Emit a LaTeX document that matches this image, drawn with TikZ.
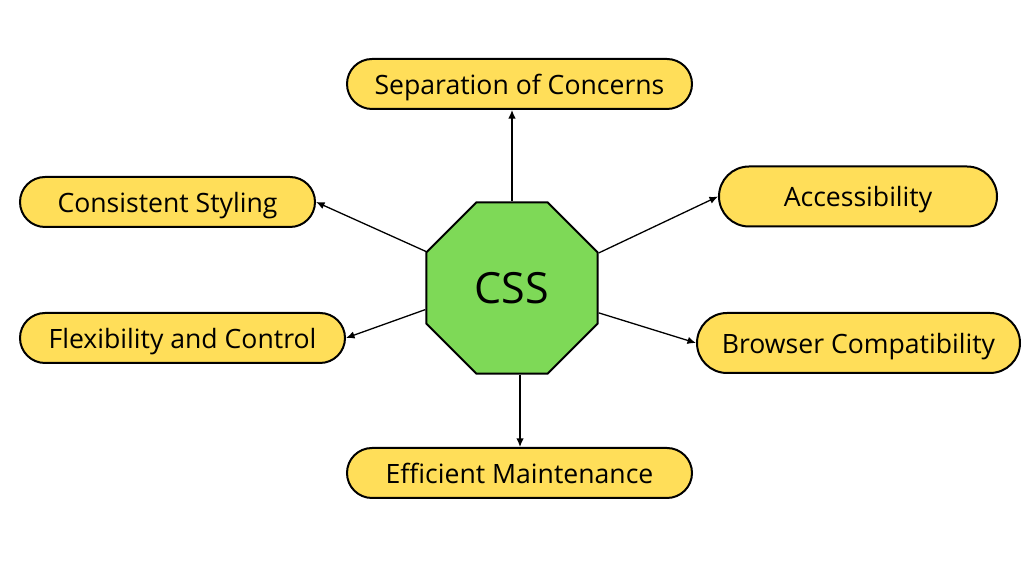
\documentclass[tikz,border=0pt]{standalone}
\usepackage{fontspec}
\setmainfont{Open Sans}
\usetikzlibrary{arrows.meta, shapes.misc, shapes.geometric}
\usepackage{xcolor}
\definecolor{pillyellow}{HTML}{FFDE59}
\definecolor{cssgreen}{HTML}{7ED957}

\begin{document}
\begin{tikzpicture}[
  x=0.5pt, y=-0.5pt,
  pill/.style={draw, line width=1pt, fill=pillyellow, rounded rectangle, minimum height=25pt, inner sep=0pt, text depth=0pt, font=\fontsize{13.3}{15}\selectfont},
  octa/.style={draw, line width=1pt, fill=cssgreen, regular polygon, regular polygon sides=8, minimum size=92.8pt, inner sep=0pt, font=\fontsize{21.5}{24}\selectfont},
  arrow/.style={-{Latex[length=1.5mm, width=1.3mm]}, line width=0.65pt}
]
\useasboundingbox (0,0) rectangle (1024,576);

\node[octa] (css) at (512,288) {CSS};

\node[pill, minimum width=172.5pt] (soc) at (519.5,84) {Separation of Concerns};
\node[pill, minimum width=147.5pt] (cs) at (167.5,202) {Consistent Styling};
\node[pill, minimum width=139pt, minimum height=30pt] (acc) at (858,196.5) {Accessibility};
\node[pill, minimum width=162.5pt] (flex) at (182.5,338) {Flexibility and Control};
\node[pill, minimum width=161.5pt, minimum height=30pt] (bc) at (858.5,343) {Browser Compatibility};
\node[pill, minimum width=172.5pt] (em) at (519.5,473) {Efficient Maintenance};

\draw[arrow] (css.north) -- (css.north |- soc.south);
\draw[arrow] (css.157.5) -- (cs.east);
\draw[arrow] (css.22.5) -- (acc.west);
\draw[arrow] (css.194) -- (flex.east);
\draw[arrow] (css.344) -- (bc.west);
\draw[arrow] ([xshift=4pt]css.south) -- ([xshift=4pt]css.south |- em.north);

\end{tikzpicture}
\end{document}
